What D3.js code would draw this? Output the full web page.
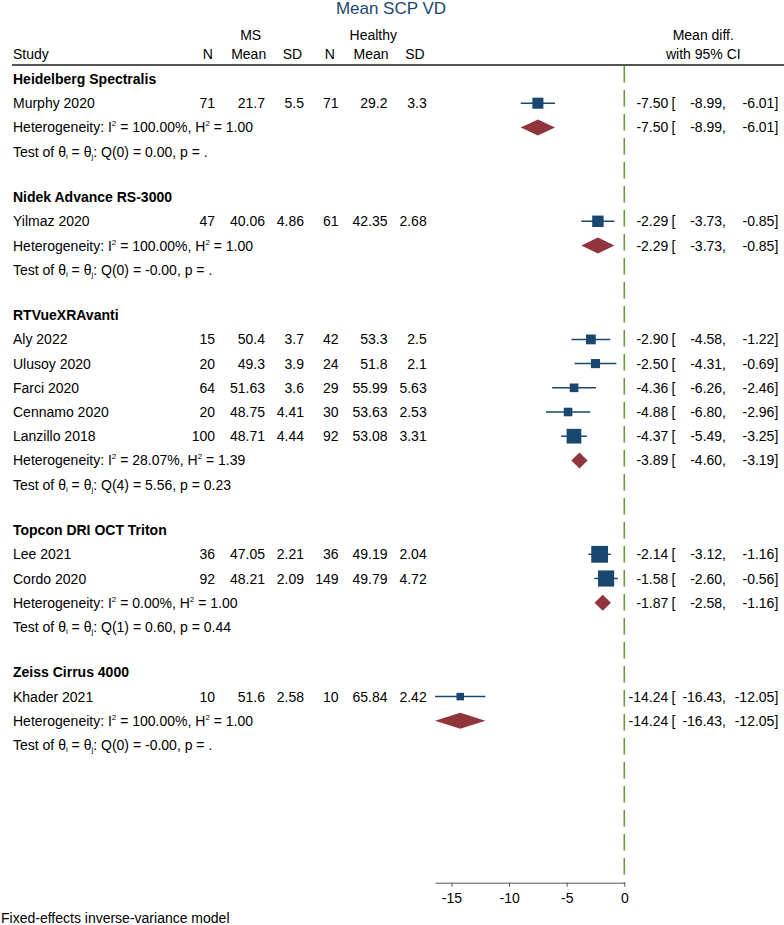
<!DOCTYPE html>
<html><head><meta charset="utf-8">
<script src="https://cdn.jsdelivr.net/npm/d3@7"></script>
<style>body{margin:0;background:#fff}svg{display:block}text{font-family:"Liberation Sans",Arial,sans-serif}</style>
</head><body><svg id="c" width="784" height="925"></svg>
<script>
const groups = ["Heidelberg Spectralis","Nidek Advance RS-3000","RTVueXRAvanti","Topcon DRI OCT Triton","Zeiss Cirrus 4000"];
const studies = ["Murphy 2020","Yilmaz 2020","Aly 2022","Ulusoy 2020","Farci 2020","Cennamo 2020","Lanzillo 2018","Lee 2021","Cordo 2020","Khader 2021"];
const studyGroup = [0,1,2,2,2,2,2,3,3,4];
const msN = [71,47,15,20,64,20,100,36,92,10];
const msMean = [21.7,40.06,50.4,49.3,51.63,48.75,48.71,47.05,48.21,51.6];
const msSD = [5.5,4.86,3.7,3.9,3.6,4.41,4.44,2.21,2.09,2.58];
const hN = [71,61,42,24,29,30,92,36,149,10];
const hMean = [29.2,42.35,53.3,51.8,55.99,53.63,53.08,49.19,49.79,65.84];
const hSD = [3.3,2.68,2.5,2.1,5.63,2.53,3.31,2.04,4.72,2.42];
const md = [-7.50,-2.29,-2.90,-2.50,-4.36,-4.88,-4.37,-2.14,-1.58,-14.24];
const mdLo = [-8.99,-3.73,-4.58,-4.31,-6.26,-6.80,-5.49,-3.12,-2.60,-16.43];
const mdHi = [-6.01,-0.85,-1.22,-0.69,-2.46,-2.96,-3.25,-1.16,-0.56,-12.05];
const grpMD = [-7.50,-2.29,-3.89,-1.87,-14.24];
const grpLo = [-8.99,-3.73,-4.60,-2.58,-16.43];
const grpHi = [-6.01,-0.85,-3.19,-1.16,-12.05];
const hetI2 = ["100.00","100.00","28.07","0.00","100.00"];
const hetH2 = ["1.00","1.00","1.39","1.00","1.00"];
const qDf = [0,0,4,1,0];
const qVal = ["0.00","-0.00","5.56","0.60","-0.00"];
const pVal = [".",".","0.23","0.44","."];
const xTicks = [-15,-10,-5,0];

const navy = "#1a476f", maroon = "#90353b", green = "#6b9a3c";
const svg = d3.select("#c");
const x = d3.scaleLinear().domain([-16.43, 0]).range([435, 624.3]);

// rows
const rows = [];
let y = 79;
const step = 24.2, gap = 45.5;
groups.forEach((g, gi) => {
  rows.push({type:"head", g:gi, y}); y += step;
  studies.forEach((s, i) => { if (studyGroup[i] === gi) { rows.push({type:"study", i, y}); y += step; } });
  rows.push({type:"het", g:gi, y}); y += step;
  rows.push({type:"test", g:gi, y}); y += gap;
});

const fs = 14, off = 5;
// title & headers
svg.append("text").attr("x", 391).attr("y", 14).attr("text-anchor","middle").attr("font-size",17).attr("fill",navy).text("Mean SCP VD");
const hdr = [["MS",250.7,35],["Healthy",373.3,35],["Mean diff.",703.3,35],["N",207.7,54.3],["Mean",248.7,54.3],["SD",292.5,54.3],["N",329.7,54.3],["Mean",371,54.3],["SD",415,54.3],["with 95% CI",703.3,54.3]];
hdr.forEach(h => svg.append("text").attr("x",h[1]).attr("y",h[2]+off).attr("text-anchor","middle").attr("font-size",fs).text(h[0]));
svg.append("text").attr("x",13).attr("y",54.3+off).attr("font-size",fs).text("Study");
svg.append("line").attr("x1",12).attr("x2",784).attr("y1",65).attr("y2",65).attr("stroke","#555").attr("stroke-width",2);

// zero line
svg.append("line").attr("x1",x(0)).attr("x2",x(0)).attr("y1",66).attr("y2",882.7)
  .attr("stroke",green).attr("stroke-width",1.6).attr("stroke-dasharray","16.5,7.5");

const w = studies.map((s,i) => { const se = (mdHi[i]-mdLo[i])/(2*1.959964); return 1/(se*se); });
const size = d3.scaleSqrt().domain([0, d3.max(w)]).range([0, 8.4*Math.sqrt(d3.max(w))]);

function ciText(yc, e, lo, hi) {
  svg.append("text").attr("x",668.3).attr("y",yc+off).attr("text-anchor","end").attr("font-size",fs).text(e.toFixed(2));
  svg.append("text").attr("x",671.5).attr("y",yc+off).attr("font-size",fs).text("[");
  svg.append("text").attr("x",726).attr("y",yc+off).attr("text-anchor","end").attr("font-size",fs).text(lo.toFixed(2)+",");
  svg.append("text").attr("x",778.3).attr("y",yc+off).attr("text-anchor","end").attr("font-size",fs).text(hi.toFixed(2)+"]");
}

const cols = [215, 265, 304, 338.5, 387.5, 426.7];
rows.forEach(r => {
  const yb = r.y + off;
  if (r.type === "head") {
    svg.append("text").attr("x",13).attr("y",yb).attr("font-size",fs).attr("font-weight","bold").text(groups[r.g]);
  } else if (r.type === "study") {
    const i = r.i;
    svg.append("text").attr("x",13).attr("y",yb).attr("font-size",fs).text(studies[i]);
    [msN[i], msMean[i], msSD[i], hN[i], hMean[i], hSD[i]].forEach((v, k) =>
      svg.append("text").attr("x",cols[k]).attr("y",yb).attr("text-anchor","end").attr("font-size",fs).text(String(v)));
    svg.append("line").attr("x1",x(mdLo[i])).attr("x2",x(mdHi[i])).attr("y1",r.y).attr("y2",r.y).attr("stroke",navy).attr("stroke-width",1.5);
    const s = size(w[i]);
    svg.append("rect").attr("x",x(md[i])-s/2).attr("y",r.y-s/2).attr("width",s).attr("height",s).attr("fill",navy);
    ciText(r.y, md[i], mdLo[i], mdHi[i]);
  } else if (r.type === "het") {
    const t = svg.append("text").attr("x",13).attr("y",yb).attr("font-size",fs);
    t.append("tspan").text("Heterogeneity: I");
    t.append("tspan").attr("font-size",8).attr("dy",-6).text("2");
    t.append("tspan").attr("dy",6).text(" = " + hetI2[r.g] + "%, H");
    t.append("tspan").attr("font-size",8).attr("dy",-6).text("2");
    t.append("tspan").attr("dy",6).text(" = " + hetH2[r.g]);
    const g = r.g, h = 8;
    const pts = [[x(grpLo[g]), r.y],[x(grpMD[g]), r.y-h],[x(grpHi[g]), r.y],[x(grpMD[g]), r.y+h]];
    svg.append("path").attr("d", d3.line()(pts) + "Z").attr("fill", maroon);
    ciText(r.y, grpMD[g], grpLo[g], grpHi[g]);
  } else {
    const t = svg.append("text").attr("x",13).attr("y",yb).attr("font-size",fs);
    t.append("tspan").text("Test of θ");
    t.append("tspan").attr("font-size",8).attr("dy",2).text("i");
    t.append("tspan").attr("dy",-2).text(" = θ");
    t.append("tspan").attr("font-size",8).attr("dy",2).text("j");
    t.append("tspan").attr("dy",-2).text(": Q(" + qDf[r.g] + ") = " + qVal[r.g] + ", p = " + pVal[r.g]);
  }
});

// axis
const ax = svg.append("g").attr("transform","translate(0,882.7)")
  .call(d3.axisBottom(x).tickValues(xTicks).tickSize(4).tickSizeOuter(0).tickFormat(d => String(d)));
ax.select(".domain").attr("stroke","#555");
ax.selectAll(".tick line").attr("stroke","#555");
ax.selectAll(".tick text").attr("font-size",fs).attr("font-family","Liberation Sans, Arial, sans-serif").attr("fill","#000").attr("dy","0.95em");

svg.append("text").attr("x",1).attr("y",923).attr("font-size",14).text("Fixed-effects inverse-variance model");
</script></body></html>
